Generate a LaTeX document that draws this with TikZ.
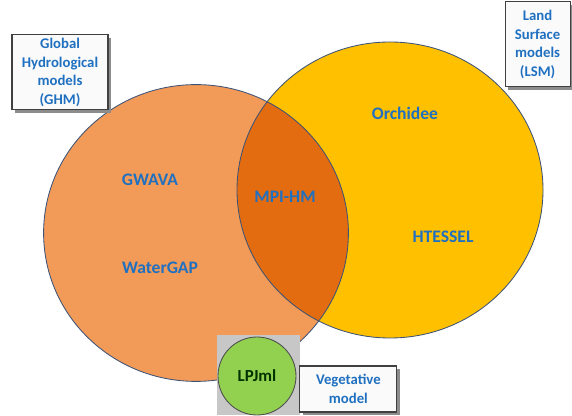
\documentclass[tikz,border=0pt]{standalone}
\usepackage{fontspec}
\setmainfont{Carlito}
\usetikzlibrary{shadows}
\definecolor{ghmorange}{RGB}{242,155,88}
\definecolor{lensorange}{RGB}{228,108,16}
\definecolor{lsmyellow}{RGB}{255,192,0}
\definecolor{lpjgreen}{RGB}{146,208,80}
\definecolor{labelblue}{RGB}{31,112,192}
\definecolor{rimblue}{RGB}{60,82,120}
\begin{document}
\begin{tikzpicture}[font=\bfseries,
  lbl/.style={text=labelblue,font=\fontsize{12.5}{15}\selectfont\bfseries},
  tag/.style={draw=black!75,line width=0.8pt,fill=gray!4,align=center,text=labelblue,font=\fontsize{10.5}{13.2}\selectfont\bfseries,inner sep=1pt,drop shadow={shadow xshift=2pt,shadow yshift=-2pt,fill=black!45,opacity=1}}]
  \useasboundingbox (0,0) rectangle (14.3,10.4);
  % the two families and their overlap
  \fill[ghmorange] (4.9,4.575) ellipse [x radius=3.81,y radius=3.71];
  \fill[lsmyellow] (9.75,5.65) ellipse [x radius=3.825,y radius=3.7];
  \begin{scope}
    \clip (4.9,4.575) ellipse [x radius=3.81,y radius=3.71];
    \fill[lensorange] (9.75,5.65) ellipse [x radius=3.825,y radius=3.7];
  \end{scope}
  \draw[rimblue,line width=0.6pt] (4.9,4.575) ellipse [x radius=3.81,y radius=3.71];
  \draw[rimblue,line width=0.6pt] (9.75,5.65) ellipse [x radius=3.825,y radius=3.7];
  \node[lbl] (gwava) at (3.75,5.9){GWAVA};
  \node[lbl] (watergap) at (4.0,3.7){WaterGAP};
  \node[lbl] (mpihm) at (7.125,5.475){MPI-HM};
  \node[lbl] (orchidee) at (10.125,7.575){Orchidee};
  \node[lbl] (htessel) at (11.075,4.475){HTESSEL};
  % vegetative model
  \fill[black!22] (5.425,0.025) rectangle (7.5,2.025);
  \node[circle,draw=black!70,line width=0.6pt,fill=lpjgreen,minimum size=1.95cm,text=black!80!green,font=\fontsize{12}{14}\selectfont\bfseries] (lpjml) at (6.425,1.0){LPJml};
  % category boxes
  \node[tag,minimum width=2.4cm,minimum height=1.875cm] (ghm) at (1.5,8.59){Global\\Hydrological\\models\\(GHM)};
  \node[tag,minimum width=1.625cm,minimum height=2.125cm] (lsm) at (13.44,9.29){Land\\Surface\\models\\(LSM)};
  \node[tag,minimum width=2.425cm,minimum height=1.15cm] (veg) at (8.71,0.675){Vegetative\\model};
\end{tikzpicture}
\end{document}
